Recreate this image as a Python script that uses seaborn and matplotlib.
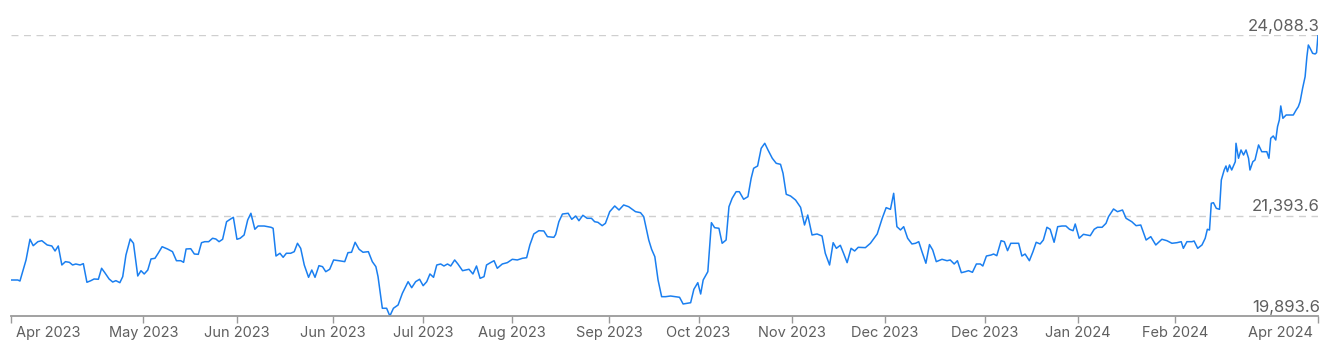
import matplotlib
matplotlib.use('Agg')
import matplotlib.pyplot as plt
import matplotlib.transforms as mtransforms
import seaborn as sns
import pandas as pd
import numpy as np

# ---------------- data ----------------
start_date = '2023-04-01'

days1 = [0.0, 1.9, 2.5, 4.2, 5.3, 6.2, 7.5, 8.6, 10.1, 11.4, 12.3, 13.2, 14.2, 15.2, 16.3, 17.2,
         18.1, 19.3, 20.2, 21.2, 22.3, 23.2, 24.4, 25.3, 26.2, 27.4, 28.4, 29.3, 30.4, 31.2, 32.1,
         33.3, 34.2, 35.4, 36.3, 37.2, 38.2, 39.1, 40.2, 41.1, 42.2, 43.7, 45.1, 46.2, 47.4, 48.2,
         48.9, 50.2]
prices1 = [20431, 20431, 20416, 20730, 21039, 20943, 21003, 21018, 20954, 20939, 20864, 20939,
           20655, 20705, 20695, 20655, 20670, 20655, 20675, 20397, 20421, 20446, 20442, 20606,
           20540, 20446, 20401, 20421, 20391, 20481, 20804, 21043, 20979, 20491, 20570, 20521,
           20580, 20745, 20755, 20830, 20928, 20894, 20854, 20719, 20719, 20695, 20894, 20898]

days2 = [51.2, 52.3, 53.2, 54.1, 55.2, 56.3, 57.2, 58.1, 59.1, 60.2, 61.2, 62.1, 63.1, 64.0, 65.1,
         66.1, 67.0, 68.1, 69.0, 70.7, 72.6, 73.2, 74.0, 75.1, 76.0, 76.9, 78.1, 79.1, 80.0, 80.9,
         81.9, 83.1, 84.0, 84.9, 86.0, 87.0, 87.9, 89.0, 90.1, 91.6, 93.2, 94.1, 95.1, 96.1, 97.2,
         98.3, 99.8, 100.9, 101.9]
prices2 = [20819, 20814, 20988, 21003, 21003, 21054, 21043, 21003, 21039, 21301, 21337, 21367,
           21039, 21054, 21103, 21327, 21427, 21188, 21237, 21237, 21218, 21203, 20789, 20830,
           20770, 20830, 20830, 20854, 20979, 20904, 20655, 20471, 20580, 20471, 20645, 20630,
           20555, 20591, 20730, 20719, 20705, 20839, 20845, 20994, 20890, 20845, 20854, 20705,
           20630]

days3 = [102.5, 103.7, 104.9, 105.8, 106.8, 108.1, 109.3, 110.9, 111.9, 113.0, 114.1, 115.1, 116.1,
         117.0, 118.0, 118.9, 120.0, 120.9, 121.9, 122.8, 123.9, 124.8, 126.1, 127.9, 129.0, 130.0,
         131.0, 132.1, 132.8, 133.9, 134.9, 135.8, 137.2, 138.6, 140.0, 141.4, 142.8, 144.0, 144.9,
         146.0, 147.4, 148.8, 149.8, 151.6, 152.1]
prices3 = [20481, 20009, 20009, 19893.6, 20009, 20058, 20233, 20406, 20316, 20406, 20442, 20346,
           20406, 20521, 20471, 20655, 20670, 20640, 20670, 20640, 20730, 20670, 20570, 20591,
           20521, 20640, 20456, 20481, 20655, 20690, 20719, 20606, 20670, 20690, 20740, 20730,
           20755, 20764, 20954, 21118, 21167, 21163, 21078, 21068, 21110]

days4 = [153.0, 154.0, 155.6, 156.6, 157.7, 158.6, 159.7, 160.9, 162.1, 163.0, 163.9, 165.1, 166.0,
         167.2, 168.6, 169.8, 171.1, 172.5, 174.4, 175.8, 176.7, 178.1, 178.9, 179.8, 180.7, 181.7,
         182.8, 184.2, 185.6, 186.7, 187.7, 188.8, 189.8, 190.7, 191.8, 192.6, 193.3, 194.6, 195.6,
         196.5, 197.7, 198.6, 199.7, 200.5, 201.4, 202.5, 203.4, 204.6]
prices4 = [21301, 21416, 21427, 21337, 21386, 21316, 21397, 21352, 21352, 21301, 21292, 21242,
           21277, 21451, 21536, 21476, 21551, 21525, 21451, 21436, 21376, 21028, 20889, 20779,
           20431, 20182, 20182, 20192, 20182, 20173, 20073, 20083, 20092, 20292, 20391, 20222,
           20431, 20555, 21287, 21212, 21203, 20979, 21028, 21525, 21651, 21749, 21749, 21636]

days5 = [205.8, 206.7, 207.4, 208.5, 209.5, 210.5, 211.4, 212.6, 213.7, 214.9, 215.6, 216.5, 217.7,
         219.1, 220.5, 221.6, 222.5, 223.7, 225.1, 226.5, 227.4, 228.6, 229.6, 230.5, 231.6, 232.5,
         233.5, 234.6, 235.6, 236.6, 238.6, 240.0, 241.9, 243.3, 244.4, 245.6, 246.5, 247.4, 248.4,
         249.3, 250.4, 251.6, 252.6, 253.5, 254.4, 255.5, 256.5, 257.4, 258.4, 260.0]
prices5 = [21675, 21949, 22099, 22133, 22397, 22472, 22372, 22248, 22173, 22158, 22024, 21710,
           21685, 21625, 21516, 21252, 21401, 21103, 21118, 21088, 20830, 20655, 20988, 20904,
           20949, 20830, 20690, 20904, 20864, 20919, 20914, 20979, 21118, 21352, 21511, 21486,
           21725, 21227, 21178, 21227, 21054, 20969, 20979, 21003, 20854, 20681, 20960, 20879,
           20705, 20740]

days6 = [261.4, 262.3, 263.4, 264.3, 265.4, 266.5, 267.4, 268.5, 269.6, 270.7, 271.4, 272.4, 273.7,
         274.4, 275.3, 276.5, 277.4, 278.3, 279.2, 281.4, 282.3, 283.2, 284.4, 285.4, 286.3, 287.4,
         288.3, 289.3, 290.2, 291.3, 292.3, 293.5, 294.6, 295.6, 296.6, 297.2, 298.3, 299.5, 300.5,
         301.4, 302.5, 303.4, 304.7, 305.8, 306.5, 307.9, 309.0, 309.8]
prices6 = [20719, 20730, 20670, 20719, 20540, 20555, 20570, 20546, 20670, 20670, 20640, 20789,
           20804, 20819, 20794, 21018, 21003, 20869, 20979, 20979, 20789, 20819, 20719, 20854,
           20994, 20969, 21028, 21218, 21188, 20994, 21227, 21237, 21237, 21188, 21167, 21267,
           21054, 21113, 21103, 21093, 21188, 21218, 21218, 21277, 21376, 21491, 21451, 21466]

days7 = [310.4, 311.4, 313.0, 314.2, 315.5, 317.0, 318.3, 319.7, 321.4, 322.8, 324.2, 325.6, 326.8,
         327.4, 328.4, 329.8, 330.4, 331.4, 332.6, 333.5, 334.1, 334.7, 335.2, 335.8, 336.6, 337.5,
         338.0, 338.8, 339.3, 339.7, 340.3, 340.9, 341.9, 342.1, 342.8, 343.5, 344.2, 344.9, 345.6,
         346.0, 346.8, 347.4, 348.4, 349.3, 350.7, 351.3, 351.8, 352.5, 353.2, 353.7, 354.2, 354.6,
         355.2, 356.1, 357.2, 358.1, 358.9, 359.5, 360.0, 360.7, 361.4, 361.9, 362.3, 362.8, 363.5,
         364.2, 364.6, 365.0]
prices7 = [21476, 21352, 21301, 21242, 21252, 21028, 21078, 20954, 21039, 21018, 20979, 20988,
           21003, 20904, 21003, 21003, 21013, 20904, 20954, 21054, 21188, 21177, 21576, 21585,
           21501, 21486, 21924, 22073, 22133, 22048, 22148, 22073, 22197, 22472, 22248, 22372,
           22297, 22372, 22248, 22073, 22197, 22222, 22447, 22346, 22346, 22248, 22546, 22581,
           22521, 22720, 22820, 23029, 22845, 22894, 22894, 22894, 22969, 23018, 23093, 23293,
           23466, 23765, 23939, 23890, 23815, 23805, 23825, 24088.3]

level_values = [19893.6, 21393.6, 24088.3]

tick_dates = ['2023-04-01', '2023-05-08', '2023-06-03', '2023-06-30', '2023-07-25', '2023-08-19',
              '2023-09-15', '2023-10-10', '2023-11-05', '2023-12-01', '2023-12-29', '2024-01-24',
              '2024-02-20', '2024-03-31']
tick_labels = ['Apr 2023', 'May 2023', 'Jun 2023', 'Jun 2023', 'Jul 2023', 'Aug 2023', 'Sep 2023',
               'Oct 2023', 'Nov 2023', 'Dec 2023', 'Dec 2023', 'Jan 2024', 'Feb 2024', 'Apr 2024']

# ---------------- assemble ----------------
day_parts = [days1, days2, days3, days4, days5, days6, days7]
price_parts = [prices1, prices2, prices3, prices4, prices5, prices6, prices7]
for d, p in zip(day_parts, price_parts):
    assert len(d) == len(p), (len(d), len(p))
days = np.concatenate(day_parts)
prices = np.concatenate(price_parts)
start = pd.Timestamp(start_date)
dates = start + pd.to_timedelta(days, unit='D')
df = pd.DataFrame({'date': dates, 'price': prices})

# ---------------- style ----------------
sns.set_theme(style='white')
plt.rcParams['font.family'] = ['Inter', 'DejaVu Sans']

W, H = 1330, 351
fig = plt.figure(figsize=(W / 100, H / 100), dpi=100)
left_px, right_px, top_px, bottom_px = 11, 1318, 35, 316
ax = fig.add_axes([left_px / W, 1 - bottom_px / H, (right_px - left_px) / W, (bottom_px - top_px) / H])

text_color = '#5f5f5f'
axis_color = '#9a9a9a'

for v in level_values[1:]:
    ax.axhline(v, color='#cfcfcf', lw=1.0, ls=(0, (5, 4)), zorder=0)

sns.lineplot(data=df, x='date', y='price', ax=ax, color='#1a7ff0', linewidth=1.1,
             estimator=None, sort=False)

ax.set_xlim(start, start + pd.Timedelta(days=365))
ax.set_ylim(min(level_values), max(level_values))
ax.set_xlabel('')
ax.set_ylabel('')
ax.set_yticks([])

ax.set_xticks(pd.to_datetime(tick_dates))
ax.set_xticklabels(tick_labels)
ax.tick_params(axis='x', direction='out', length=5, width=1, color=axis_color,
               labelsize=10.5, labelcolor=text_color, pad=2, bottom=True)

for s in ['top', 'left', 'right']:
    ax.spines[s].set_visible(False)
ax.spines['bottom'].set_color(axis_color)
ax.spines['bottom'].set_linewidth(1.3)

labels = ax.get_xticklabels()
labels[0].set_horizontalalignment('left')
labels[0].set_transform(labels[0].get_transform() +
                        mtransforms.ScaledTranslation(5 / 100, 0, fig.dpi_scale_trans))
labels[-1].set_horizontalalignment('right')
labels[-1].set_transform(labels[-1].get_transform() +
                         mtransforms.ScaledTranslation(-5 / 100, 0, fig.dpi_scale_trans))

trans = mtransforms.blended_transform_factory(ax.transAxes, ax.transData)
for v in level_values:
    ax.annotate(f'{v:,.1f}', xy=(1, v), xycoords=trans, xytext=(1.5, 3),
                textcoords='offset points', ha='right', va='baseline',
                fontsize=12, color=text_color)

fig.savefig('out.png', dpi=100)
